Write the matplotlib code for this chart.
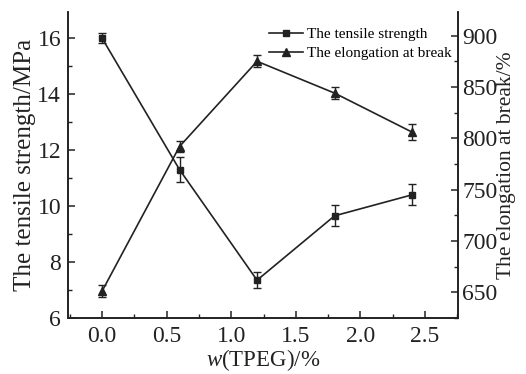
import matplotlib
matplotlib.use("Agg")
import matplotlib.pyplot as plt
from matplotlib.ticker import MultipleLocator
from matplotlib.lines import Line2D

plt.rcParams['font.family'] = ['Liberation Serif', 'DejaVu Serif']
plt.rcParams['mathtext.fontset'] = 'custom'
plt.rcParams['mathtext.rm'] = 'Liberation Serif'
plt.rcParams['mathtext.it'] = 'Liberation Serif:italic'

x = [0.0, 0.6, 1.2, 1.8, 2.4]
tensile = [16.0, 11.3, 7.35, 9.65, 10.4]
tensile_err = [0.18, 0.45, 0.28, 0.38, 0.38]
elong = [651, 792, 875, 844, 806]
elong_err = [6, 5, 6, 6, 8]
labels = ['The tensile strength', 'The elongation at break']

C = '#222222'
fig = plt.figure(figsize=(5.26, 3.74), dpi=100)
ax = fig.add_axes([68/526, 1-318/374, (458-68)/526, (318-12)/374])
ax2 = ax.twinx()

ax.errorbar(x, tensile, yerr=tensile_err, color=C, marker='s', ms=5,
            lw=1.2, capsize=3, elinewidth=1.0, capthick=1.0)
ax2.errorbar(x, elong, yerr=elong_err, color=C, marker='^', ms=6,
             lw=1.2, capsize=3, elinewidth=1.0, capthick=1.0)

ax.set_xlim(-0.263, 2.755)
ax.set_ylim(6, 16.93)
ax2.set_ylim(625, 923)

for a in (ax, ax2):
    a.spines['top'].set_visible(False)
    for s in a.spines.values():
        s.set_linewidth(1.2)
        s.set_color(C)
    a.tick_params(direction='in', which='major', length=5, width=1.1, labelsize=17, colors=C)
    a.tick_params(direction='in', which='minor', length=3, width=1.0, colors=C)

ax.xaxis.set_major_locator(MultipleLocator(0.5))
ax.xaxis.set_minor_locator(MultipleLocator(0.25))
ax.yaxis.set_major_locator(MultipleLocator(2))
ax.yaxis.set_minor_locator(MultipleLocator(1))
ax2.yaxis.set_major_locator(MultipleLocator(50))
ax2.yaxis.set_minor_locator(MultipleLocator(25))
ax.set_xticks([0.0, 0.5, 1.0, 1.5, 2.0, 2.5])
ax.set_xticklabels(['0.0', '0.5', '1.0', '1.5', '2.0', '2.5'])
ax.tick_params(axis='x', pad=6)
ax.tick_params(axis='y', pad=5)
ax2.tick_params(axis='y', pad=3)

ax.set_ylabel('The tensile strength/MPa', fontsize=18, color=C, labelpad=1)
ax2.set_ylabel('The elongation at break/%', fontsize=15.5, color=C, labelpad=0)
ax.set_xlabel(r'$w$(TPEG)/%', fontsize=16.5, color=C, labelpad=0)

handles = [Line2D([], [], color=C, marker='s', ms=5, lw=1.2),
           Line2D([], [], color=C, marker='^', ms=6, lw=1.2)]
ax.legend(handles, labels, loc='upper right', bbox_to_anchor=(1.0, 0.97), frameon=False,
          fontsize=11, handlelength=2.2, handletextpad=0.3, labelspacing=0.35,
          borderaxespad=0.0)

fig.savefig('out.png', dpi=100)
